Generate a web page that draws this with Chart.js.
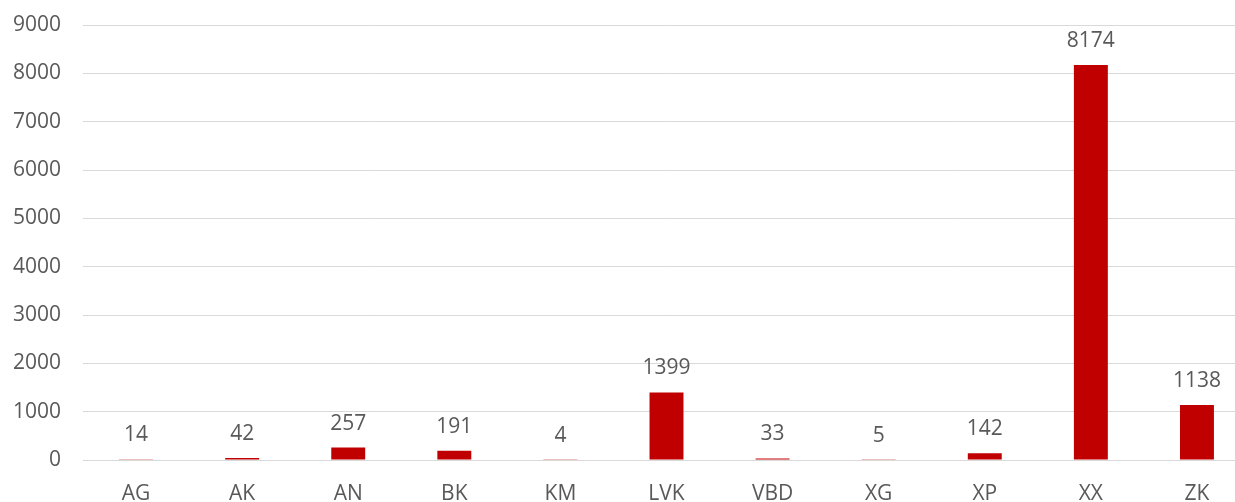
<!DOCTYPE html>
<html>
<head>
<meta charset="utf-8">
<script src="https://cdn.jsdelivr.net/npm/chart.js@4/dist/chart.umd.min.js"></script>
<style>
html,body{margin:0;padding:0;background:#fff;overflow:hidden;}
canvas{display:block;}
</style>
</head>
<body>
<canvas id="c" width="1250" height="502" style="width:1250px;height:502px"></canvas>
<script>
const categories = ["AG","AK","AN","BK","KM","LVK","VBD","XG","XP","XX","ZK"];
const values = [14,42,257,191,4,1399,33,5,142,8174,1138];
const yTicks = [0,1000,2000,3000,4000,5000,6000,7000,8000,9000];

const FONT = {family: "'Open Sans', sans-serif", size: 21, lineHeight: 1.2};
const TEXT = '#595959';

const labelPlugin = {
  id: 'valueLabels',
  afterDatasetsDraw(chart) {
    const ctx = chart.ctx;
    const meta = chart.getDatasetMeta(0);
    ctx.save();
    ctx.font = FONT.size + "px " + FONT.family;
    ctx.fillStyle = TEXT;
    ctx.textAlign = 'center';
    ctx.textBaseline = 'middle';
    meta.data.forEach((bar, i) => {
      ctx.fillText(String(values[i]), bar.x, bar.y - 24);
    });
    ctx.restore();
  }
};

new Chart(document.getElementById('c'), {
  type: 'bar',
  data: {
    labels: categories,
    datasets: [{
      data: values,
      backgroundColor: '#C00000',
      borderWidth: 0,
      categoryPercentage: 1,
      barPercentage: 0.32
    }]
  },
  options: {
    responsive: false,
    animation: false,
    layout: {padding: {top: 0, left: 0, right: 0, bottom: 0}},
    plugins: {legend: {display: false}, tooltip: {enabled: false}},
    scales: {
      x: {
        grid: {display: false, drawTicks: false},
        border: {display: true, color: '#d9d9d9', width: 1},
        ticks: {color: TEXT, font: FONT, padding: 21, maxRotation: 0},
        afterFit(axis) { axis.height = 42; }
      },
      y: {
        min: 0, max: 9000,
        afterBuildTicks(axis) { axis.ticks = yTicks.map(v => ({value: v})); },
        grid: {color: '#d9d9d9', lineWidth: 1, drawTicks: false},
        border: {display: false},
        ticks: {color: TEXT, font: FONT, padding: 22, callback: v => String(v)},
        afterFit(axis) { axis.width = 83; axis.paddingTop = 25; }
      }
    }
  },
  plugins: [labelPlugin]
});
</script>
</body>
</html>
